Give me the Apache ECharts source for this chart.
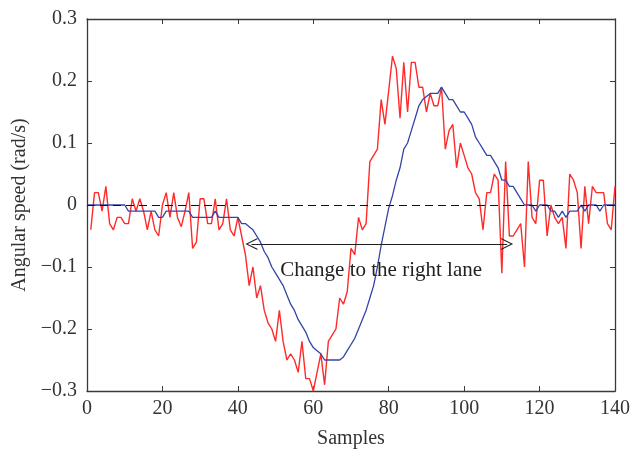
<!DOCTYPE html>
<html>
<head>
<meta charset="utf-8">
<script src="https://cdn.jsdelivr.net/npm/echarts@6/dist/echarts.min.js"></script>
<style>
html, body { margin: 0; padding: 0; background: #fff; }
#main { width: 633px; height: 458px; }
</style>
</head>
<body>
<div id="main"></div>
<script>
// measured angular speed (red), samples 1..140
var redValues = [
  -0.04, 0.02, 0.02, -0.01, 0.03, -0.03, -0.04, -0.02, -0.02, -0.03,
  -0.03, 0.01, -0.01, 0.01, -0.01, -0.04, -0.01, -0.04, -0.05, 0,
  0.02, -0.02, 0.02, -0.02, -0.035, -0.01, 0.02, -0.07, -0.06, 0.01,
  0.01, -0.03, -0.03, 0.01, -0.04, -0.03, 0.01, -0.04, -0.05, -0.02,
  -0.05, -0.08, -0.13, -0.10, -0.15, -0.13, -0.17, -0.19, -0.20, -0.22,
  -0.17, -0.22, -0.25, -0.24, -0.25, -0.27, -0.22, -0.28, -0.28, -0.30,
  -0.27, -0.24, -0.29, -0.22, -0.21, -0.20, -0.15, -0.16, -0.14, -0.07,
  -0.08, -0.02, -0.04, -0.03, 0.07, 0.08, 0.09, 0.17, 0.13, 0.185,
  0.24, 0.22, 0.14, 0.23, 0.15, 0.23, 0.23, 0.19, 0.19, 0.15,
  0.18, 0.16, 0.16, 0.19, 0.09, 0.12, 0.13, 0.06, 0.10, 0.08,
  0.06, 0.05, 0.02, 0.01, -0.04, 0.02, 0.02, 0.05, 0.04, -0.11,
  0.07, -0.05, -0.05, -0.04, -0.03, -0.10, 0.07, -0.02, -0.03, 0.04,
  0.04, -0.05, 0, -0.02, -0.03, -0.02, -0.07, 0.05, 0.04, 0.02,
  -0.07, 0.03, -0.03, 0.03, 0.02, 0.02, 0.02, -0.03, -0.04, 0.03
];
var redStart = 1;

// filtered angular speed (blue), samples 0..140
var blueValues = [
  0, 0, 0, 0, 0, 0, 0, 0, 0, 0, 0,
  -0.01, -0.01, -0.01, -0.01, -0.01, -0.01, -0.01, -0.01, -0.02, -0.02,
  -0.01, -0.01, -0.01, -0.01, -0.01, -0.01, -0.01, -0.02, -0.02, -0.02,
  -0.02, -0.02, -0.02, -0.01, -0.02, -0.02, -0.02, -0.02, -0.02, -0.02,
  -0.03, -0.03, -0.035, -0.04, -0.05, -0.06, -0.075, -0.085, -0.10, -0.11,
  -0.12, -0.13, -0.145, -0.16, -0.17, -0.185, -0.195, -0.205, -0.22, -0.23,
  -0.235, -0.24, -0.25, -0.25, -0.25, -0.25, -0.25, -0.245, -0.235, -0.225,
  -0.215, -0.20, -0.185, -0.17, -0.15, -0.13, -0.10, -0.065, -0.035, -0.005,
  0.015, 0.04, 0.06, 0.09, 0.10, 0.12, 0.14, 0.16, 0.17, 0.175,
  0.18, 0.18, 0.18, 0.19, 0.18, 0.17, 0.17, 0.16, 0.15, 0.15,
  0.14, 0.13, 0.11, 0.10, 0.09, 0.08, 0.08, 0.07, 0.06, 0.04,
  0.04, 0.03, 0.03, 0.02, 0.01, 0, 0, 0, -0.01, 0,
  0, 0, -0.01, -0.01, -0.02, -0.01, -0.02, -0.01, -0.01, -0.01,
  0, -0.01, 0, 0, 0, -0.01, 0, 0, 0, 0
];
var blueStart = 0;

var xTicks = [0, 20, 40, 60, 80, 100, 120, 140];
var yTicks = [-0.3, -0.2, -0.1, 0, 0.1, 0.2, 0.3];

// annotation: lane change interval
var arrowFrom = 43.6, arrowTo = 111.4, arrowLevel = -0.063;
var annoText = 'Change to the right lane';
var annoX = 78, annoY = -0.105;

function pairs(vals, start) {
  var out = [];
  for (var i = 0; i < vals.length; i++) out.push([start + i, vals[i]]);
  return out;
}

var fontFam = '"Liberation Serif", "DejaVu Serif", serif';
var axisColor = '#3a3a3a';
var textColor = '#333';

function fmtY(v) {
  var r = Math.round(v * 10) / 10;
  if (r === 0) return '0';
  return (r < 0 ? '\u2212' : '') + Math.abs(r).toFixed(1);
}

var chart = echarts.init(document.getElementById('main'));

var baseX = {
  type: 'value', min: xTicks[0], max: xTicks[xTicks.length - 1], interval: 20,
  axisLine: { onZero: false, lineStyle: { color: axisColor, width: 1.3 } },
  axisTick: { inside: true, length: 5, lineStyle: { color: axisColor, width: 1 } },
  splitLine: { show: false }
};
var baseY = {
  type: 'value', min: yTicks[0], max: yTicks[yTicks.length - 1], interval: 0.1,
  axisLine: { onZero: false, lineStyle: { color: axisColor, width: 1.3 } },
  axisTick: { inside: true, length: 5, lineStyle: { color: axisColor, width: 1 } },
  splitLine: { show: false }
};

option = {
  backgroundColor: '#fff',
  animation: false,
  grid: { left: 87, right: 18, top: 19, bottom: 67 },
  xAxis: [
    Object.assign({}, baseX, {
      position: 'bottom',
      name: 'Samples', nameLocation: 'middle', nameGap: 38,
      nameTextStyle: { fontFamily: fontFam, fontSize: 20, color: textColor },
      axisLabel: { margin: 8, fontFamily: fontFam, fontSize: 20, color: textColor }
    }),
    Object.assign({}, baseX, { position: 'top', axisLabel: { show: false } })
  ],
  yAxis: [
    Object.assign({}, baseY, {
      position: 'left',
      name: 'Angular speed (rad/s)', nameLocation: 'middle', nameGap: 56,
      nameTextStyle: { fontFamily: fontFam, fontSize: 20, color: textColor },
      axisLabel: { margin: 10, fontFamily: fontFam, fontSize: 20, color: textColor, formatter: fmtY }
    }),
    Object.assign({}, baseY, { position: 'right', axisLabel: { show: false } })
  ],
  series: [
    {
      type: 'line',
      data: pairs(redValues, redStart),
      showSymbol: false,
      lineStyle: { color: '#ff2a2a', width: 1.4 },
      z: 3
    },
    {
      type: 'line',
      data: pairs(blueValues, blueStart),
      showSymbol: false,
      lineStyle: { color: '#3445a8', width: 1.3 },
      z: 4,
      markLine: {
        silent: true,
        symbol: 'none',
        label: { show: false },
        lineStyle: { color: '#111', type: [8, 5], width: 1.2 },
        data: [{ yAxis: 0 }]
      }
    },
    {
      type: 'line',
      data: [],
      markLine: {
        silent: true,
        symbol: ['path://M0,10 L5,0 L10,10 L9,10 L5,2 L1,10 Z', 'path://M0,10 L5,0 L10,10 L9,10 L5,2 L1,10 Z'],
        symbolSize: [12, 12],
        label: { show: false },
        lineStyle: { color: '#222', type: 'solid', width: 1.2 },
        data: [[{ coord: [arrowFrom, arrowLevel] }, { coord: [arrowTo, arrowLevel] }]]
      },
      markPoint: {
        silent: true,
        symbol: 'circle',
        symbolSize: 0,
        label: {
          show: true, position: 'inside', formatter: annoText,
          fontFamily: fontFam, fontSize: 21, color: '#222'
        },
        data: [{ coord: [annoX, annoY] }]
      }
    }
  ]
};

chart.setOption(option);
</script>
</body>
</html>
